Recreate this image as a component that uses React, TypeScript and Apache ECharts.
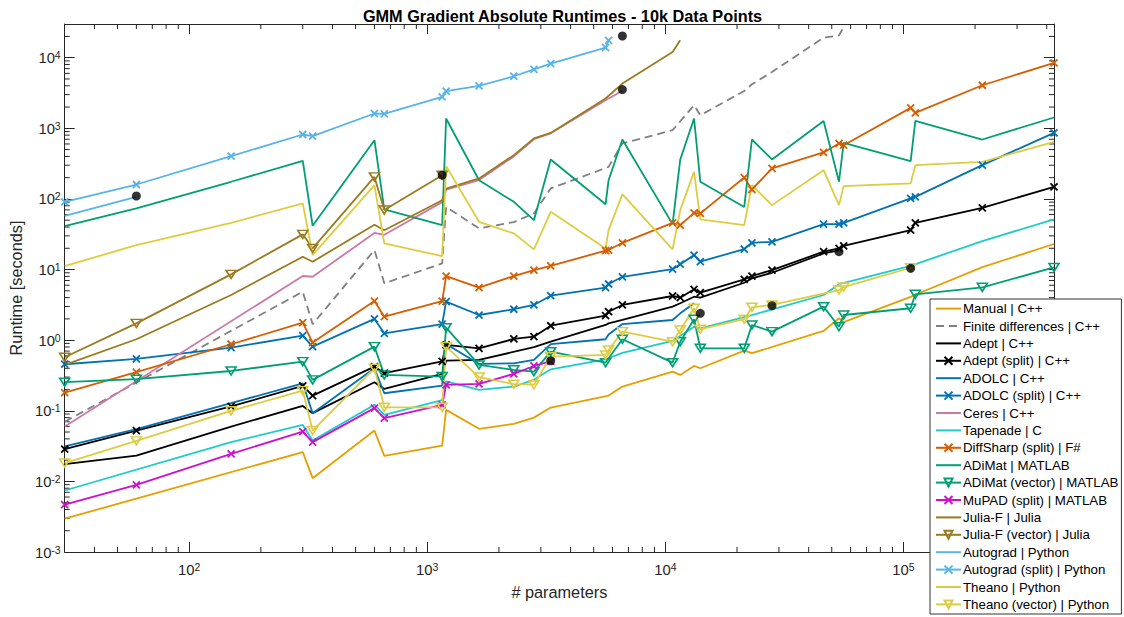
import React, { useEffect, useRef } from 'react';
import * as echarts from 'echarts';

const X_MIN = 30;
const X_MAX = 429000;
const Y_MIN = 0.001;
const Y_MAX = 30000;

const TITLE = 'GMM Gradient Absolute Runtimes - 10k Data Points';
const X_NAME = '# parameters';
const Y_NAME = 'Runtime [seconds]';

const manual = [[30,0.00296],[60,0.0057],[300,0.026],[330,0.0111],[600,0.0525],[660,0.023],[1155,0.0322],[1200,0.103],[1650,0.0555],[2310,0.0653],[2805,0.08],[3300,0.111],[5775,0.164],[6600,0.22],[10725,0.358],[11550,0.322],[13200,0.431],[14025,0.4],[21450,0.71],[23100,0.653],[46200,1.35],[53625,2.04],[56100,1.8],[107250,4.1],[112200,4.4],[214500,10.8],[429000,23]];
const finiteDiff = [[30,0.07],[300,4.85],[330,1.68],[600,18.9],[660,6.38],[1155,12.2],[1200,77],[1650,38.3],[2310,47],[2805,62.4],[3300,141],[5775,284],[6600,610],[10725,940],[13200,2120],[14025,1530],[21450,3380],[23100,4200],[28050,6280],[46200,19200],[53625,20700],[56100,27000]];
const adept = [[30,0.0176],[60,0.0232],[150,0.0598],[300,0.117],[330,0.0925],[600,0.254],[660,0.204],[1155,0.333],[1200,0.513],[1650,0.525],[2805,0.795],[3300,0.953],[5610,1.64],[5775,1.73],[6600,1.93],[10725,2.98],[11550,3.33],[13200,4.12],[14025,4.0],[21450,6.5],[23100,7.5],[28050,9.0],[46200,16.9],[53625,18.7]];
const adeptSplit = [[30,0.0287],[60,0.0525],[150,0.115],[300,0.225],[330,0.164],[600,0.422],[660,0.34],[1155,0.5],[1200,0.855],[1650,0.767],[2310,1.04],[2805,1.12],[3300,1.6],[5610,2.22],[5775,2.53],[6600,3.15],[10725,4.22],[11550,3.99],[13200,5.25],[14025,4.7],[21450,7.27],[23100,8.09],[28050,9.84],[46200,17.9],[53625,19.9],[56100,21.7],[107250,36.2],[112200,45.9],[214500,74.8],[429000,148]];
const adolc = [[30,0.0312],[60,0.055],[150,0.128],[300,0.245],[330,0.0925],[600,0.4],[660,0.177],[1155,0.227],[1200,0.883],[1650,0.46],[2310,0.47],[2805,0.525],[3300,0.88],[5610,1.03],[5775,1.2],[6600,1.69],[10725,1.93],[11550,2.4],[13200,3.33]];
const adolcSplit = [[30,0.456],[60,0.542],[150,0.784],[300,1.16],[330,0.81],[600,2.0],[660,1.25],[1155,1.69],[1200,3.51],[1650,2.27],[2310,2.74],[2805,3.15],[3300,4.26],[5610,5.53],[5775,6.24],[6600,7.9],[10725,10.1],[11550,11.9],[13200,16],[14025,12.9],[21450,19.5],[23100,23.9],[28050,24.7],[46200,44],[53625,44],[56100,45.9],[107250,102],[112200,107],[214500,301],[429000,861]];
const ceres = [[30,0.06],[300,8.1],[330,7.9],[600,33],[660,31],[1155,90],[1200,135],[1650,185],[2310,400],[2805,700],[3300,850],[5610,2500],[6600,3400]];
const tapenade = [[30,0.00743],[150,0.036],[300,0.063],[330,0.038],[600,0.122],[660,0.0875],[1155,0.142],[1200,0.26],[1650,0.198],[2310,0.22],[2805,0.274],[3300,0.387],[5610,0.535],[6600,0.66],[10725,0.975],[13200,1.55],[14025,1.47],[23100,2.27],[46200,4.36],[53625,6.2],[107250,11.3],[214500,25.3],[429000,51.3]];
const diffSharp = [[30,0.181],[60,0.352],[150,0.875],[300,1.77],[330,0.923],[600,3.58],[660,2.15],[1155,3.58],[1200,8.09],[1650,5.53],[2310,8.09],[2805,9.84],[3300,11.3],[5610,18.5],[5775,18.9],[6600,23.9],[10725,45.9],[11550,42.6],[13200,63.6],[14025,62.4],[21450,201],[23100,136],[28050,270],[46200,455],[53625,610],[56100,577],[107250,1945],[112200,1650],[214500,4070],[429000,8420]];
const adimat = [[30,41.2],[60,73.4],[150,175],[300,346],[330,41.7],[600,679],[660,71],[1155,42.6],[1200,1376],[1650,184],[2310,91],[2805,50],[3300,362],[5610,84],[5775,184],[6600,694],[10725,44],[11550,362],[13200,1376],[14025,175],[21450,77],[23100,694],[28050,362],[46200,1273],[53625,175],[56100,622],[107250,343],[112200,1273],[214500,694],[429000,1422]];
const adimatVec = [[30,0.254],[60,0.28],[150,0.366],[300,0.497],[330,0.274],[600,0.81],[660,0.322],[1155,0.305],[1200,1.5],[1650,0.446],[2310,0.38],[2805,0.358],[3300,0.687],[5610,0.481],[6600,1.03],[10725,0.48],[11550,0.95],[13200,1.98],[14025,0.767],[21450,0.767],[23100,1.64],[28050,1.32],[46200,2.98],[53625,1.55],[56100,2.27],[107250,2.83],[112200,4.46],[214500,5.6],[429000,10.7]];
const mupad = [[30,0.00467],[60,0.00895],[150,0.0245],[300,0.0508],[330,0.036],[600,0.109],[660,0.0785],[1155,0.121],[1200,0.232],[1650,0.24],[2310,0.333],[2805,0.431],[3300,0.5]];
const juliaF = [[30,0.446],[60,1.03],[150,4.36],[300,15.2],[330,12.9],[600,43],[660,36],[1155,96],[1200,140],[1650,195],[2310,417],[2805,718],[3300,861],[5610,2640],[6600,4300],[10725,12050],[11550,17600]];
const juliaFVec = [[30,0.573],[60,1.73],[150,8.55],[300,31.5],[330,19.9],[600,205],[660,69.5],[1155,217]];
const autograd = [[30,57.7],[60,107]];
const autogradSplit = [[30,91],[60,160],[150,403],[300,817],[330,773],[600,1620],[660,1600],[1155,2780],[1200,3350],[1650,3980],[2310,5460],[2805,6850],[3300,8260],[5610,13900],[5775,17600]];
const theano = [[30,11.2],[60,22.2],[150,45.9],[300,86.4],[330,16],[600,157],[660,23.5],[1155,15.5],[1200,291],[1650,47.4],[2310,32.5],[2805,19.3],[3300,65.7],[5610,19.9],[5775,36.2],[6600,117],[10725,19.3],[11550,69.5],[13200,242],[14025,51.3],[21450,42.6],[23100,157],[28050,81.7],[46200,255],[53625,81.7],[56100,152],[107250,166],[112200,301],[214500,335],[429000,643]];
const theanoVec = [[30,0.0182],[60,0.0375],[150,0.0998],[300,0.193],[330,0.0525],[600,0.4],[660,0.112],[1155,0.112],[1200,0.81],[1650,0.3],[2310,0.238],[2805,0.234],[3300,0.585],[5610,0.617],[5775,0.726],[6600,1.32],[10725,0.95],[11550,1.39],[13200,2.83],[14025,1.43],[21450,1.98],[23100,2.92],[28050,3.15],[53625,5.13],[56100,5.65],[107250,10.6]];
const endDots = [[60,110],[1155,217],[3300,0.51],[6600,3540],[6600,20300],[14025,2.4],[28050,3.08],[53625,17.9],[107250,10.4]];

type Def = { name: string; data: number[][]; color: string; marker?: 'x' | 'v'; dashed?: boolean };

const defs: Def[] = [
  { name: 'Manual | C++', data: manual, color: '#E69F00' },
  { name: 'Finite differences | C++', data: finiteDiff, color: '#808080', dashed: true },
  { name: 'Adept | C++', data: adept, color: '#000000' },
  { name: 'Adept (split) | C++', data: adeptSplit, color: '#000000', marker: 'x' },
  { name: 'ADOLC | C++', data: adolc, color: '#0072B2' },
  { name: 'ADOLC (split) | C++', data: adolcSplit, color: '#0072B2', marker: 'x' },
  { name: 'Ceres | C++', data: ceres, color: '#CC79A7' },
  { name: 'Tapenade | C', data: tapenade, color: '#1DCBCB' },
  { name: 'DiffSharp (split) | F#', data: diffSharp, color: '#D55E00', marker: 'x' },
  { name: 'ADiMat | MATLAB', data: adimat, color: '#009E73' },
  { name: 'ADiMat (vector) | MATLAB', data: adimatVec, color: '#009E73', marker: 'v' },
  { name: 'MuPAD (split) | MATLAB', data: mupad, color: '#CC11CC', marker: 'x' },
  { name: 'Julia-F | Julia', data: juliaF, color: '#9A7B1E' },
  { name: 'Julia-F (vector) | Julia', data: juliaFVec, color: '#9A7B1E', marker: 'v' },
  { name: 'Autograd | Python', data: autograd, color: '#56B4E9' },
  { name: 'Autograd (split) | Python', data: autogradSplit, color: '#56B4E9', marker: 'x' },
  { name: 'Theano | Python', data: theano, color: '#DDCC3F' },
  { name: 'Theano (vector) | Python', data: theanoVec, color: '#DDCC3F', marker: 'v' },
];

const AX = '#262626';
const FONT = 'Liberation Sans, Arial, Helvetica, sans-serif';
const X_PATH = 'path://M0,0L10,10M10,0L0,10';
const CLEAR = 'rgba(0,0,0,0)';

const minorX: number[] = [];
for (let e = 1; e <= 5; e++) for (let m = 2; m <= 9; m++) { const v = m * Math.pow(10, e); if (v > X_MIN && v < X_MAX) minorX.push(v); }
const minorY: number[] = [];
for (let e = -3; e <= 4; e++) for (let m = 2; m <= 9; m++) { const v = m * Math.pow(10, e); if (v > Y_MIN && v < Y_MAX) minorY.push(v); }

function supFmt(v: number): string {
  const l = Math.log10(v);
  const k = Math.round(l);
  if (Math.abs(l - k) > 1e-6) return '';
  return `{b|10}{s|${k}}`;
}

const rich = {
  b: { fontSize: 14.8, color: AX, fontFamily: FONT, lineHeight: 16, padding: [3, 0, 0, 0], verticalAlign: 'bottom' },
  s: { fontSize: 10.5, color: AX, fontFamily: FONT, lineHeight: 11, verticalAlign: 'top' },
};

function makeSeries(d: Def): any {
  const s: any = {
    name: d.name,
    type: 'line',
    data: d.data,
    z: 2,
    lineStyle: { color: d.color, width: 1.8, type: d.dashed ? [8, 5] : 'solid' },
    emphasis: { disabled: true },
    showAllSymbol: true,
    clip: true,
  };
  if (!d.marker) {
    s.symbol = 'circle';
    s.showSymbol = false;
    s.symbolSize = 1;
    s.itemStyle = { color: CLEAR, borderColor: CLEAR, borderWidth: 0 };
  } else if (d.marker === 'x') {
    s.symbol = X_PATH;
    s.symbolSize = 7;
    s.itemStyle = { color: CLEAR, borderColor: d.color, borderWidth: 1.8 };
  } else {
    s.symbol = 'triangle';
    s.symbolRotate = 180;
    s.symbolSize = [10, 8];
    s.itemStyle = { color: CLEAR, borderColor: d.color, borderWidth: 1.6 };
  }
  return s;
}

export default function App() {
  const ref = useRef<HTMLDivElement>(null);
  useEffect(() => {
    if (!ref.current) return;
    const chart = echarts.init(ref.current, undefined, { renderer: 'svg' });
    const logAxisCommon = {
      type: 'log',
      logBase: 10,
      splitLine: { show: false },
      axisLine: { show: true, onZero: false, lineStyle: { color: AX, width: 1 } },
      axisTick: { show: true, inside: true, length: 10, lineStyle: { color: AX, width: 1 } },
    };
    const option: any = {
      animation: false,
      textStyle: { fontFamily: FONT },
      title: {
        text: TITLE,
        left: 557.5,
        top: 3,
        textAlign: 'center',
        textStyle: { fontSize: 16.3, fontWeight: 'bold', color: '#000', fontFamily: FONT },
      },
      grid: { left: 61, right: 70, top: 24, bottom: 65 },
      xAxis: [
        {
          ...logAxisCommon,
          min: X_MIN, max: X_MAX, position: 'bottom',
          axisLabel: { formatter: supFmt, rich, margin: 9, color: AX, showMinLabel: false, showMaxLabel: false },
          name: X_NAME, nameLocation: 'middle', nameGap: 32,
          nameTextStyle: { fontSize: 16.3, color: AX, fontFamily: FONT },
        },
        {
          ...logAxisCommon,
          min: X_MIN, max: X_MAX, position: 'top',
          axisLabel: { show: false },
        },
      ],
      yAxis: [
        {
          ...logAxisCommon,
          min: Y_MIN, max: Y_MAX, position: 'left',
          axisLabel: { formatter: supFmt, rich, margin: 4, color: AX, showMinLabel: true, showMaxLabel: false },
          name: Y_NAME, nameLocation: 'middle', nameGap: 30,
          nameTextStyle: { fontSize: 16.3, color: AX, fontFamily: FONT },
        },
        {
          ...logAxisCommon,
          min: Y_MIN, max: Y_MAX, position: 'right',
          axisLabel: { show: false },
        },
      ],
      legend: {
        data: defs.map((d) => d.name),
        orient: 'vertical',
        left: 930,
        top: 299,
        itemWidth: 25,
        itemHeight: 10,
        itemGap: 4.2,
        padding: [3, 3, 3, 5],
        backgroundColor: '#ffffff',
        borderColor: '#333333',
        borderWidth: 1,
        borderRadius: 0,
        selectedMode: false,
        textStyle: { fontSize: 13.3, color: '#000', fontFamily: FONT, lineHeight: 13.2, padding: [0, 0, 0, -3] },
      },
      series: [
        ...defs.map(makeSeries),
        {
          name: 'end markers',
          type: 'scatter',
          data: endDots,
          symbol: 'circle',
          symbolSize: 9,
          itemStyle: { color: '#000' },
          z: 3,
          emphasis: { disabled: true },
        },
        {
          name: 'minor x ticks',
          type: 'custom',
          data: minorX.map((v) => [v, Y_MIN]),
          clip: false,
          silent: true,
          z: 1,
          renderItem: (_p: any, api: any) => {
            const v = api.value(0);
            const b = api.coord([v, Y_MIN]);
            const t = api.coord([v, Y_MAX]);
            return {
              type: 'group',
              children: [
                { type: 'line', shape: { x1: b[0], y1: b[1], x2: b[0], y2: b[1] - 5 }, style: { stroke: AX, lineWidth: 1 } },
                { type: 'line', shape: { x1: t[0], y1: t[1], x2: t[0], y2: t[1] + 5 }, style: { stroke: AX, lineWidth: 1 } },
              ],
            };
          },
        },
        {
          name: 'minor y ticks',
          type: 'custom',
          data: minorY.map((v) => [X_MIN, v]),
          clip: false,
          silent: true,
          z: 1,
          renderItem: (_p: any, api: any) => {
            const v = api.value(1);
            const l = api.coord([X_MIN, v]);
            const r = api.coord([X_MAX, v]);
            return {
              type: 'group',
              children: [
                { type: 'line', shape: { x1: l[0], y1: l[1], x2: l[0] + 5, y2: l[1] }, style: { stroke: AX, lineWidth: 1 } },
                { type: 'line', shape: { x1: r[0], y1: r[1], x2: r[0] - 5, y2: r[1] }, style: { stroke: AX, lineWidth: 1 } },
              ],
            };
          },
        },
      ],
    };
    chart.setOption(option);
    return () => chart.dispose();
  }, []);
  return <div ref={ref} style={{ position: 'absolute', left: 0, top: 0, width: 1124, height: 617, background: '#fff' }} />;
}
